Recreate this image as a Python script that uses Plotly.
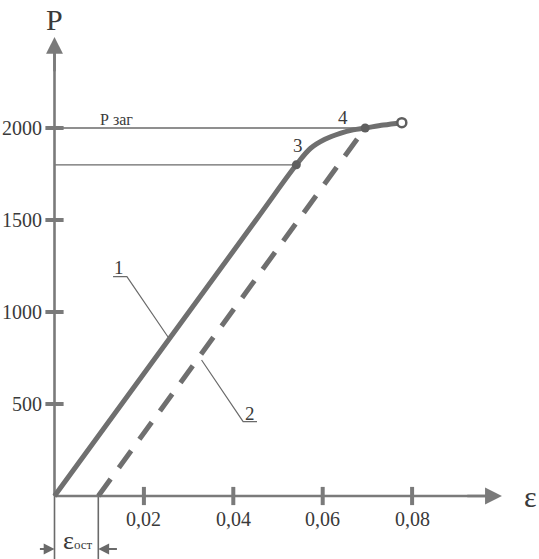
import plotly.graph_objects as go

# диаграмма растяжения P - ε (кривая 1)
curve_eps = [0.0, 0.0450, 0.0541, 0.0573, 0.0605, 0.0639, 0.0668, 0.0695,
             0.0736, 0.0777]
curve_p = [0, 1497, 1800, 1890, 1939, 1971, 1990, 2000, 2016, 2029]
# линия разгрузки 2
unload_eps = [0.0098, 0.0695]
unload_p = [0, 2000]
eps_ost = 0.0098
p_zag = 2000
p_3 = 1800
point_eps = [0.0541, 0.0695]
point_p = [1800, 2000]
point_names = ["3", "4"]
end_eps = [0.0777]
end_p = [2029]

x_ticks = [0.02, 0.04, 0.06, 0.08]
x_tick_text = ["0,02", "0,04", "0,06", "0,08"]
y_ticks = [500, 1000, 1500, 2000]
y_tick_text = ["500", "1000", "1500", "2000"]

GRAY = "#6f6f6f"
AXIS = "#7a7a7a"
THIN = "#6a6a6a"
TXT = "#3a3a3a"
FONT = "Liberation Serif"

X0, X1 = -0.012192, 0.108389
Y0, Y1 = -342.4, 2695.7

fig = go.Figure()

# вспомогательные горизонтальные линии
fig.add_trace(go.Scatter(x=[0, point_eps[1]], y=[p_zag, p_zag], mode="lines",
                         line=dict(color=THIN, width=1.3), hoverinfo="skip"))
fig.add_trace(go.Scatter(x=[0, point_eps[0]], y=[p_3, p_3], mode="lines",
                         line=dict(color=THIN, width=1.3), hoverinfo="skip"))

# выносные линии для ε ост
fig.add_trace(go.Scatter(x=[0, 0], y=[0, Y0], mode="lines",
                         line=dict(color=THIN, width=1.6), hoverinfo="skip"))
fig.add_trace(go.Scatter(x=[eps_ost, eps_ost], y=[0, Y0], mode="lines",
                         line=dict(color=THIN, width=1.6), hoverinfo="skip"))

# оси
fig.add_trace(go.Scatter(x=[0, 0], y=[0, 2440], mode="lines",
                         line=dict(color=AXIS, width=2.6), hoverinfo="skip"))
fig.add_trace(go.Scatter(x=[0, 0.098], y=[0, 0], mode="lines",
                         line=dict(color=AXIS, width=2.6), hoverinfo="skip"))

# засечки
fig.add_trace(go.Scatter(x=[0] * len(y_ticks), y=y_ticks, mode="markers",
                         marker=dict(symbol="line-ew-open", size=13, color=AXIS,
                                     line=dict(color=AXIS, width=4)),
                         hoverinfo="skip"))
fig.add_trace(go.Scatter(x=x_ticks, y=[0] * len(x_ticks), mode="markers",
                         marker=dict(symbol="line-ns-open", size=13, color=AXIS,
                                     line=dict(color=AXIS, width=4)),
                         hoverinfo="skip"))

# линия разгрузки 2
fig.add_trace(go.Scatter(x=unload_eps, y=unload_p, mode="lines",
                         line=dict(color=GRAY, width=5, dash="21px,14px"),
                         hoverinfo="skip"))

# кривая 1
fig.add_trace(go.Scatter(x=curve_eps, y=curve_p, mode="lines",
                         line=dict(color=GRAY, width=5, shape="spline",
                                   smoothing=1.0),
                         hoverinfo="skip"))
fig.add_trace(go.Scatter(x=point_eps, y=point_p, mode="markers",
                         marker=dict(color="#5f5f5f", size=9), hoverinfo="skip"))
fig.add_trace(go.Scatter(x=end_eps, y=end_p, mode="markers",
                         marker=dict(color="white", size=9,
                                     line=dict(color="#5f5f5f", width=2.5)),
                         hoverinfo="skip"))

# выноски 1 и 2
fig.add_trace(go.Scatter(x=[0.0131, 0.0162, 0.0254], y=[1192, 1192, 864],
                         mode="lines", line=dict(color=THIN, width=1.2),
                         hoverinfo="skip"))
fig.add_trace(go.Scatter(x=[0.0453, 0.0422, 0.0329], y=[404, 404, 739],
                         mode="lines", line=dict(color=THIN, width=1.2),
                         hoverinfo="skip"))

ann = []
for v, t in zip(x_ticks, x_tick_text):
    ann.append(dict(x=v, y=-125, text=t, showarrow=False,
                    font=dict(size=20, color=TXT, family=FONT)))
for v, t in zip(y_ticks, y_tick_text):
    ann.append(dict(x=-0.0024, y=v, text=t, showarrow=False, xanchor="right",
                    font=dict(size=20, color=TXT, family=FONT)))
for e, p, t in zip(point_eps, point_p, point_names):
    dx, dy = (0.0003, 106) if t == "3" else (-0.0050, 57)
    ann.append(dict(x=e + dx, y=p + dy, text=t, showarrow=False,
                    font=dict(size=19, color=TXT, family=FONT)))
ann += [
    dict(x=0.0138, y=2045, text="Р заг", showarrow=False,
         font=dict(size=16, color=TXT, family=FONT)),
    dict(x=0.0144, y=1240, text="1", showarrow=False,
         font=dict(size=19, color=TXT, family=FONT)),
    dict(x=0.0438, y=450, text="2", showarrow=False,
         font=dict(size=19, color=TXT, family=FONT)),
    dict(x=0.0, y=2590, text="P", showarrow=False,
         font=dict(size=30, color=TXT, family=FONT)),
    dict(x=1, xref="paper", y=-5, xanchor="right", text="ε", showarrow=False,
         font=dict(size=30, color=TXT, family=FONT)),
    dict(x=eps_ost / 2 + 0.0003, y=Y0, yanchor="bottom", yshift=2,
         text="ε<span style='font-size:13px'>ост</span>", showarrow=False,
         font=dict(size=26, color=TXT, family=FONT)),
    # стрелки осей
    dict(x=0, y=2495, ax=0, ay=2300, xref="x", yref="y", axref="x", ayref="y",
         text="", showarrow=True, arrowhead=2, arrowsize=1.3, arrowwidth=2.6,
         arrowcolor=AXIS),
    dict(x=0.1001, y=0, ax=0.092, ay=0, xref="x", yref="y", axref="x",
         ayref="y", text="", showarrow=True, arrowhead=2, arrowsize=1.3,
         arrowwidth=2.6, arrowcolor=AXIS),
    # стрелки ε ост
    dict(x=0, y=-288, ax=-0.0036, ay=-288, xref="x", yref="y", axref="x",
         ayref="y", text="", showarrow=True, arrowhead=2, arrowsize=1.2,
         arrowwidth=1.8, arrowcolor=THIN),
    dict(x=eps_ost, y=-288, ax=eps_ost + 0.0045, ay=-288, xref="x", yref="y",
         axref="x", ayref="y", text="", showarrow=True, arrowhead=2,
         arrowsize=1.2, arrowwidth=1.8, arrowcolor=THIN),
]

fig.update_layout(
    width=539, height=559,
    margin=dict(l=0, r=0, t=0, b=0),
    paper_bgcolor="white", plot_bgcolor="white",
    showlegend=False,
    xaxis=dict(range=[X0, X1], visible=False),
    yaxis=dict(range=[Y0, Y1], visible=False),
    annotations=ann,
)

# убрать отступ страницы, чтобы рисунок встал в окно целиком
fig.write_html("out.html", config={"displayModeBar": False},
               post_script="document.body.style.margin='0';"
                           "document.body.style.overflow='hidden';")
